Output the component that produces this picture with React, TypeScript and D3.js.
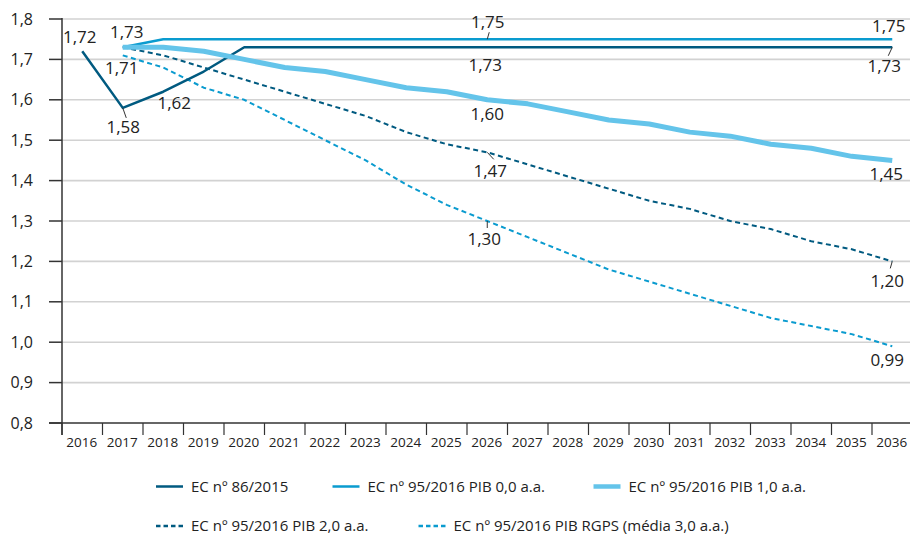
import React from 'react';
import { scaleBand, scaleLinear, line } from 'd3';

const years = ['2016','2017','2018','2019','2020','2021','2022','2023','2024','2025','2026',
  '2027','2028','2029','2030','2031','2032','2033','2034','2035','2036'];

const yTicks = [0.8, 0.9, 1.0, 1.1, 1.2, 1.3, 1.4, 1.5, 1.6, 1.7, 1.8];

// valores por ano (null = sem dado)
const ec86 = [1.72, 1.58, 1.62, 1.67, 1.73, 1.73, 1.73, 1.73, 1.73, 1.73, 1.73,
  1.73, 1.73, 1.73, 1.73, 1.73, 1.73, 1.73, 1.73, 1.73, 1.73];
const pib00 = [null, 1.73, 1.75, 1.75, 1.75, 1.75, 1.75, 1.75, 1.75, 1.75, 1.75,
  1.75, 1.75, 1.75, 1.75, 1.75, 1.75, 1.75, 1.75, 1.75, 1.75];
const pib10 = [null, 1.73, 1.73, 1.72, 1.70, 1.68, 1.67, 1.65, 1.63, 1.62, 1.60,
  1.59, 1.57, 1.55, 1.54, 1.52, 1.51, 1.49, 1.48, 1.46, 1.45];
const pib20 = [null, 1.73, 1.71, 1.68, 1.65, 1.62, 1.59, 1.56, 1.52, 1.49, 1.47,
  1.44, 1.41, 1.38, 1.35, 1.33, 1.30, 1.28, 1.25, 1.23, 1.20];
const rgps = [null, 1.71, 1.68, 1.63, 1.60, 1.55, 1.50, 1.45, 1.39, 1.34, 1.30,
  1.26, 1.22, 1.18, 1.15, 1.12, 1.09, 1.06, 1.04, 1.02, 0.99];

const seriesNames = ['EC nº 86/2015', 'EC nº 95/2016 PIB 0,0 a.a.', 'EC nº 95/2016 PIB 1,0 a.a.',
  'EC nº 95/2016 PIB 2,0 a.a.', 'EC nº 95/2016 PIB RGPS (média 3,0 a.a.)'];

// rótulos: [série, ano, texto]
const labels: [number, string, string][] = [
  [0, '2016', '1,72'], [1, '2017', '1,73'], [4, '2017', '1,71'], [0, '2017', '1,58'], [0, '2018', '1,62'],
  [1, '2026', '1,75'], [0, '2026', '1,73'], [2, '2026', '1,60'], [3, '2026', '1,47'], [4, '2026', '1,30'],
  [1, '2036', '1,75'], [0, '2036', '1,73'], [2, '2036', '1,45'], [3, '2036', '1,20'], [4, '2036', '0,99'],
];

const dark = '#005a80';
const mid = '#0a9bcf';
const light = '#64c4ea';
const font = '"Open Sans", sans-serif';

const App: React.FC = () => {
  const width = 910, height = 535;
  const x = scaleBand<string>().domain(years).range([62, 912.5]).padding(0);
  const y = scaleLinear().domain([0.8, 1.8]).range([423, 19]);
  const cx = (yr: string) => (x(yr) as number) + x.bandwidth() / 2;

  const allSeries = [ec86, pib00, pib10, pib20, rgps];
  const styles = [
    { stroke: dark, w: 2.5, dash: '' },
    { stroke: mid, w: 2.5, dash: '' },
    { stroke: light, w: 5, dash: '' },
    { stroke: dark, w: 2, dash: '5,3.5' },
    { stroke: mid, w: 2, dash: '5,3.5' },
  ];

  const gen = line<[string, number | null]>()
    .defined(d => d[1] !== null)
    .x(d => cx(d[0]))
    .y(d => y(d[1] as number));

  // posição dos rótulos: dx, dy em relação ao ponto, e fim da linha de chamada
  const place: { dx: number; dy: number; lead?: [number, number] }[] = [
    { dx: -2.5, dy: -8 },
    { dx: 4, dy: -9 },
    { dx: -1, dy: 19 },
    { dx: 0.5, dy: 25, lead: [3.5, 10] },
    { dx: 11, dy: 17 },
    { dx: 0.5, dy: -11, lead: [2, -7] },
    { dx: -2, dy: 24 },
    { dx: 0, dy: 20 },
    { dx: 3, dy: 25, lead: [6.5, 7] },
    { dx: -3, dy: 24, lead: [0, 7] },
    { dx: -3.5, dy: -7.5 },
    { dx: -8, dy: 25, lead: [-4, 8.5] },
    { dx: -6, dy: 20 },
    { dx: -5, dy: 25.5, lead: [-2, 7] },
    { dx: -5, dy: 19.5 },
  ];

  const legendPos = [
    { x: 156, y: 486.5 }, { x: 332.5, y: 486.5 }, { x: 593.5, y: 486.5 },
    { x: 156, y: 526 }, { x: 418.5, y: 526 },
  ];

  return (
    <svg width={width} height={height} style={{ position: 'absolute', left: 0, top: 0, fontFamily: font }}>
      <rect width={width} height={height} fill="#fff" />
      {yTicks.map(t => (
        <g key={t}>
          {t > 0.8 && <line x1={62} x2={912} y1={y(t)} y2={y(t)} stroke="#d2d2d2" strokeWidth={1.6} />}
          <line x1={49} x2={62} y1={y(t)} y2={y(t)} stroke="#333" strokeWidth={1.5} />
          <text x={33} y={y(t) + 5.5} textAnchor="end" fontSize={16} fill="#222">
            {t.toFixed(1).replace('.', ',')}
          </text>
        </g>
      ))}
      <line x1={49} x2={912} y1={423} y2={423} stroke="#333" strokeWidth={1.5} />
      <line x1={62} x2={62} y1={18} y2={435} stroke="#333" strokeWidth={1.5} />
      {years.map(yr => (
        <g key={yr}>
          <line x1={x(yr) as number} x2={x(yr) as number} y1={423} y2={435} stroke="#333" strokeWidth={1.2} />
          <text x={cx(yr) - 0.5} y={447} textAnchor="middle" fontSize={13.5} fill="#222">{yr}</text>
        </g>
      ))}
      {[4, 3, 0, 1, 2].map(i => (
        <path key={i}
          d={gen(years.map((yr, j) => [yr, allSeries[i][j]]) as [string, number | null][]) || ''}
          fill="none" stroke={styles[i].stroke} strokeWidth={styles[i].w}
          strokeDasharray={styles[i].dash || undefined} strokeLinejoin="round" />
      ))}
      {labels.map(([s, yr, txt], k) => {
        const px = cx(yr);
        const py = y(allSeries[s][years.indexOf(yr)] as number);
        const p = place[k];
        return (
          <g key={k}>
            {p.lead && <line x1={px} y1={py} x2={px + p.lead[0]} y2={py + p.lead[1]} stroke="#333" strokeWidth={1} />}
            <text x={px + p.dx} y={py + p.dy} textAnchor="middle" fontSize={17} fill="#222">{txt}</text>
          </g>
        );
      })}
      {seriesNames.map((n, i) => (
        <g key={n} transform={`translate(${legendPos[i].x},${legendPos[i].y})`}>
          <line x1={0} x2={27} y1={0} y2={0} stroke={styles[i].stroke}
            strokeWidth={i === 2 ? 4.5 : 2.5} strokeDasharray={styles[i].dash ? '4.5,3' : undefined} />
          <text x={35} y={5} fontSize={15} fill="#222">{n}</text>
        </g>
      ))}
    </svg>
  );
};

export default App;
